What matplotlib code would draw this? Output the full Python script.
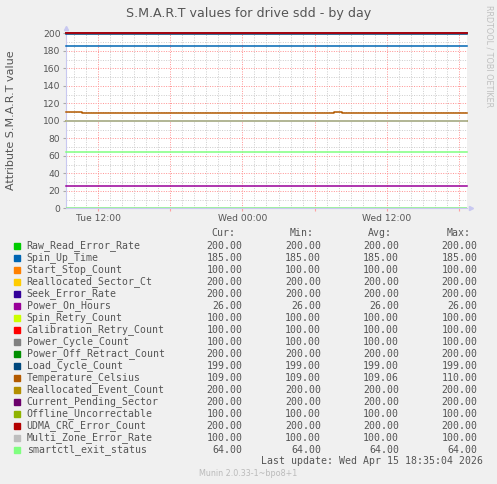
import matplotlib
matplotlib.use('Agg')
import matplotlib.pyplot as plt
from matplotlib.ticker import MultipleLocator, FixedLocator

# hours counted from Tue 00:00
T_START, T_END = 9.3, 42.7
time_ticks = [12, 18, 24, 30, 36, 42]
time_labels = ["Tue 12:00", "", "Wed 00:00", "", "Wed 12:00", ""]

names = ["Raw_Read_Error_Rate", "Spin_Up_Time", "Start_Stop_Count", "Reallocated_Sector_Ct",
         "Seek_Error_Rate", "Power_On_Hours", "Spin_Retry_Count", "Calibration_Retry_Count",
         "Power_Cycle_Count", "Power_Off_Retract_Count", "Load_Cycle_Count", "Temperature_Celsius",
         "Reallocated_Event_Count", "Current_Pending_Sector", "Offline_Uncorrectable",
         "UDMA_CRC_Error_Count", "Multi_Zone_Error_Rate", "smartctl_exit_status"]
colors = ["#00CC00", "#0066B3", "#FF8000", "#FFCC00", "#330099", "#990099", "#CCFF00", "#FF0000",
          "#808080", "#008F00", "#00487D", "#B35A00", "#B38F00", "#6B006B", "#8FB300", "#B30000",
          "#BEBEBE", "#80FF80"]
cur = [200, 185, 100, 200, 200, 26, 100, 100, 100, 200, 199, 109, 200, 200, 100, 200, 100, 64]
vmin = [200, 185, 100, 200, 200, 26, 100, 100, 100, 200, 199, 109, 200, 200, 100, 200, 100, 64]
vavg = [200, 185, 100, 200, 200, 26, 100, 100, 100, 200, 199, 109.06, 200, 200, 100, 200, 100, 64]
vmax = [200, 185, 100, 200, 200, 26, 100, 100, 100, 200, 199, 110, 200, 200, 100, 200, 100, 64]

# temperature is the only series that moves
temp_t = [T_START, 10.6, 31.6, 32.3, T_END]
temp_v = [110, 109, 110, 109, 109]

W, H = 497, 484
fig = plt.figure(figsize=(W / 100, H / 100), dpi=100, facecolor="#F0F0F0")
ax = fig.add_axes([66 / W, 1 - 208.3 / H, 401 / W, 175 / H])
ax.set_facecolor("white")

for i, name in enumerate(names):
    if name == "Temperature_Celsius":
        ax.plot(temp_t, temp_v, drawstyle="steps-post", color=colors[i], lw=1.1, clip_on=False, zorder=3)
    else:
        ax.plot([T_START, T_END], [cur[i], cur[i]], color=colors[i], lw=1.1, clip_on=False, zorder=3)
ax.axhline(0, color="#90EE90", lw=1.2, zorder=3)

ax.set_xlim(T_START, T_END)
ax.set_ylim(0, 200)
ax.yaxis.set_major_locator(MultipleLocator(20))
ax.yaxis.set_minor_locator(MultipleLocator(10))
ax.xaxis.set_major_locator(FixedLocator(time_ticks))
ax.xaxis.set_minor_locator(MultipleLocator(1))
ax.set_xticklabels(time_labels)
ax.grid(which="minor", color="#CCCCCC", ls=(0, (1, 1.5)), lw=0.7)
ax.grid(which="major", color="#FF9090", ls=(0, (1, 1.5)), lw=0.7)
ax.set_axisbelow(True)

ax.tick_params(axis="both", which="major", labelsize=6.6, labelcolor="#555555", color="#FFA0A0", length=2, pad=2)
ax.tick_params(axis="y", which="major", color="#AAAAAA")
ax.tick_params(axis="both", which="minor", length=0)

for s in ["top", "right"]:
    ax.spines[s].set_visible(False)
for s in ["left", "bottom"]:
    ax.spines[s].set_color("#C8C8F0")
ax.plot([0], [1.03], marker="^", ms=3, color="#C8C8F0", transform=ax.transAxes, clip_on=False)
ax.plot([1.01], [0], marker=">", ms=3, color="#C8C8F0", transform=ax.transAxes, clip_on=False)

fig.text(249 / W, 1 - 14 / H, "S.M.A.R.T values for drive sdd - by day", ha="center", va="center",
         fontsize=9.1, color="#555555")
fig.text(11 / W, 1 - 120 / H, "Attribute S.M.A.R.T value", rotation=90, ha="center", va="center",
         fontsize=8.0, color="#555555")
fig.text(489 / W, 1 - 5 / H, "RRDTOOL / TOBI OETIKER", rotation=-90, ha="center", va="top",
         fontsize=5.8, color="#C0C0C0")

mono = "DejaVu Sans Mono"
fs = 7.1
txt = "#555555"
col_x = [242.3, 321, 399, 477.3]
heads = ["Cur:", "Min:", "Avg:", "Max:"]
for x, h in zip(col_x, heads):
    fig.text((x - 7) / W, 1 - 233.3 / H, h, ha="right", va="center", family=mono, fontsize=fs, color=txt)

for i, name in enumerate(names):
    y = 1 - (245.7 + 12 * i) / H
    fig.patches.append(plt.Rectangle((14 / W, y - 3 / H), 6 / W, 6 / H, transform=fig.transFigure,
                                     color=colors[i], figure=fig))
    fig.text(26.7 / W, y, name, ha="left", va="center", family=mono, fontsize=fs, color=txt)
    for x, v in zip(col_x, [cur[i], vmin[i], vavg[i], vmax[i]]):
        fig.text(x / W, y, f"{v:.2f}", ha="right", va="center", family=mono, fontsize=fs, color=txt)

fig.text(483.3 / W, 1 - 461 / H, "Last update: Wed Apr 15 18:35:04 2026", ha="right", va="center",
         family=mono, fontsize=fs, color=txt)
fig.text(248 / W, 1 - 473.3 / H, "Munin 2.0.33-1~bpo8+1", ha="center", va="center",
         fontsize=5.8, color="#BBBBBB")

fig.savefig("out.png", dpi=100, facecolor=fig.get_facecolor())
